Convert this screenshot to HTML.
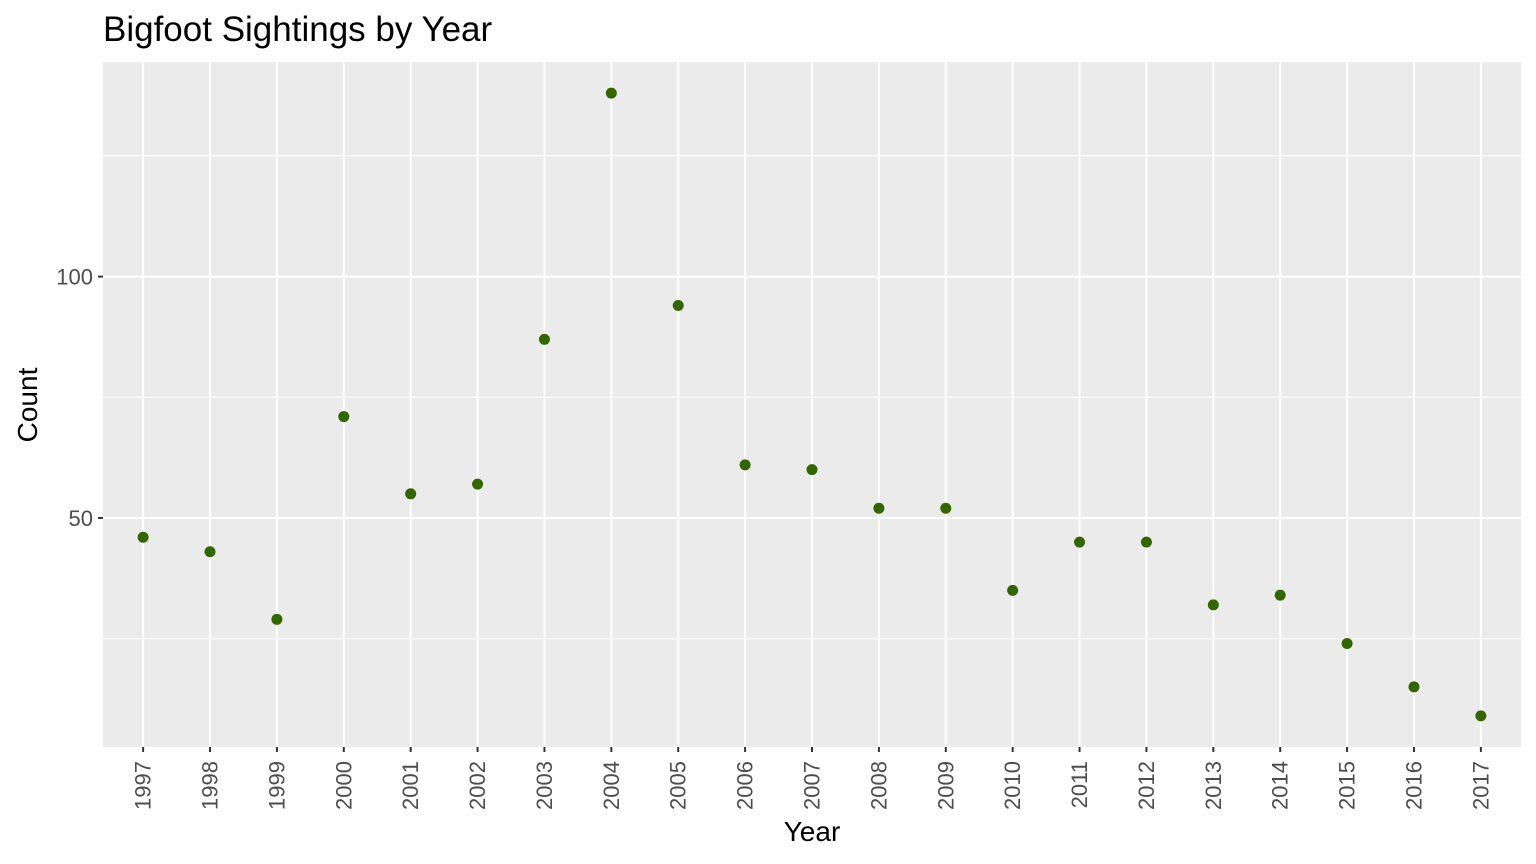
<!DOCTYPE html>
<html><head><meta charset="utf-8"><style>body{margin:0;background:#fff}svg{display:block;font-family:"Liberation Sans",sans-serif}</style></head>
<body>
<svg id="chart" width="1536" height="864">
<text x="103" y="41" font-size="35" fill="#000">Bigfoot Sightings by Year</text>
<rect x="103" y="62" width="1418" height="685" fill="#ebebeb"/>
<g id="grid"></g><g id="axes"></g><g id="pts"></g>
<text x="812" y="841" font-size="28" text-anchor="middle">Year</text>
<text transform="translate(37,405) rotate(-90)" font-size="28" text-anchor="middle">Count</text>
</svg>
<script>
const years=[1997,1998,1999,2000,2001,2002,2003,2004,2005,2006,2007,2008,2009,2010,2011,2012,2013,2014,2015,2016,2017];
const counts=[46,43,29,71,55,57,87,138,94,61,60,52,52,35,45,45,32,34,24,15,9];
const yTicks=[50,100];
const yMinor=[25,75,125];
const NS="http://www.w3.org/2000/svg";
const L=103,R=1521,T=62,B=747;
const mn=Math.min(...counts),mx=Math.max(...counts),pad=(mx-mn)*0.05;
const y0=mn-pad,y1=mx+pad;
const sy=v=>B-(v-y0)/(y1-y0)*(B-T);
const step=(R-L)/(years.length-1+1.2);
const sx=i=>L+step*0.6+i*step;
function mk(t,a,p){const e=document.createElementNS(NS,t);for(const k in a)e.setAttribute(k,a[k]);p.appendChild(e);return e;}
const g=document.getElementById('grid'),ax=document.getElementById('axes'),pts=document.getElementById('pts');
yMinor.forEach(v=>{const l=mk('line',{x1:L,x2:R,y1:sy(v),y2:sy(v),stroke:'#fff','stroke-width':1},g);

});
yTicks.forEach(v=>{const l=mk('line',{x1:L,x2:R,y1:sy(v),y2:sy(v),stroke:'#fff','stroke-width':2},g);


const t=mk('line',{x1:L-5,x2:L,y1:sy(v),y2:sy(v),stroke:'#333','stroke-width':2},ax);


const tx=mk('text',{x:L-10,y:sy(v)+8,'font-size':22,fill:'#4d4d4d','text-anchor':'end'},ax);tx.textContent=v;

});
years.forEach((yr,i)=>{const x=sx(i);
const l=mk('line',{x1:x,x2:x,y1:T,y2:B,stroke:'#fff','stroke-width':2},g);


const t=mk('line',{x1:x,x2:x,y1:B,y2:B+5,stroke:'#333','stroke-width':2},ax);


const tx=mk('text',{transform:`translate(${x+7.5},${B+14}) rotate(-90)`,'font-size':22,fill:'#4d4d4d','text-anchor':'end'},ax);tx.textContent=yr;


const c=mk('circle',{cx:x,cy:sy(counts[i]),r:5.5,fill:'#336600'},pts);

});
</script>
</body></html>
